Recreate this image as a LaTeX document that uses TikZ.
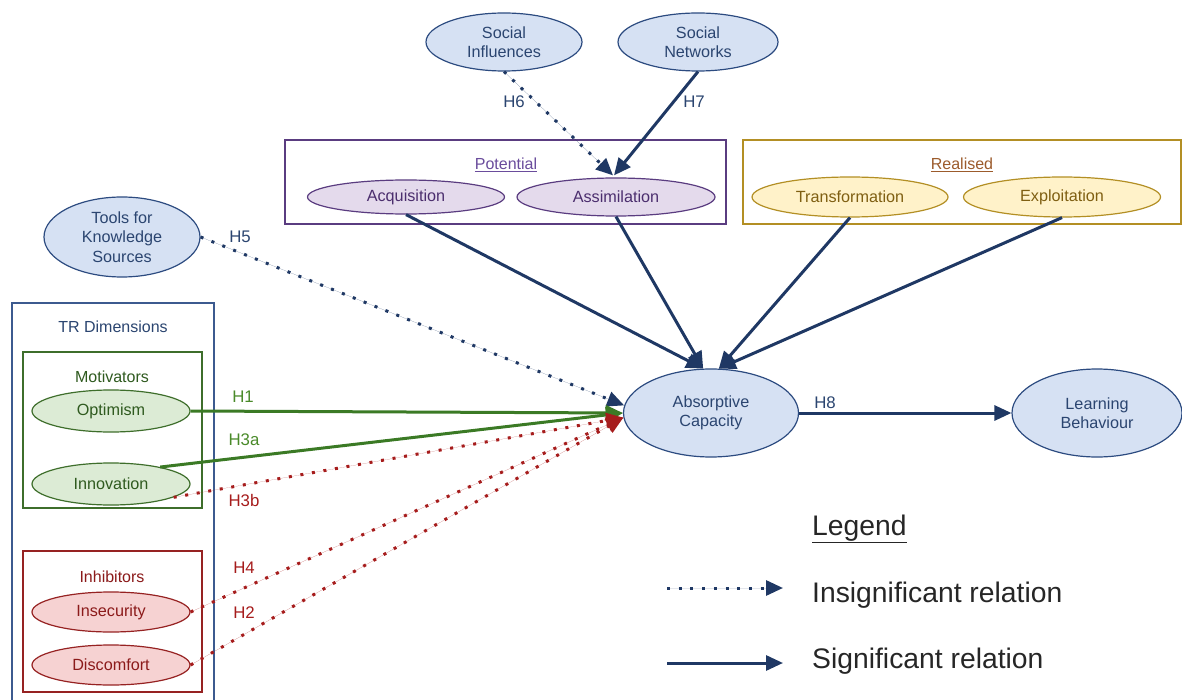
\documentclass[tikz,border=0pt]{standalone}
\usepackage{fontspec}
\setmainfont{Liberation Sans}
\usetikzlibrary{arrows.meta,shapes.geometric,calc}

\definecolor{bluefill}{HTML}{D6E1F3}
\definecolor{blueline}{HTML}{2C4B80}
\definecolor{bluetext}{HTML}{2B4570}
\definecolor{arrowblue}{HTML}{1F3864}
\definecolor{purplefill}{HTML}{E4DAEC}
\definecolor{purpleline}{HTML}{5A3C80}
\definecolor{purpletext}{HTML}{4B2E6E}
\definecolor{purpletitle}{HTML}{6A4C9C}
\definecolor{yellowfill}{HTML}{FFF2C9}
\definecolor{yellowline}{HTML}{B38F24}
\definecolor{yellowtext}{HTML}{7F5F12}
\definecolor{yellowtitle}{HTML}{9C5B2C}
\definecolor{greenfill}{HTML}{DCEBD5}
\definecolor{greenline}{HTML}{3E6E2B}
\definecolor{greentext}{HTML}{2F5A1F}
\definecolor{arrowgreen}{HTML}{3B7A25}
\definecolor{greenlabel}{HTML}{4A8A2A}
\definecolor{redfill}{HTML}{F6D2D2}
\definecolor{redline}{HTML}{962222}
\definecolor{redtext}{HTML}{8B1A1A}
\definecolor{arrowred}{HTML}{A61C1C}
\definecolor{trline}{HTML}{3C5A8F}

\tikzset{
  oval/.style={ellipse, draw, line width=1.2pt, inner sep=0pt, align=center,
    font=\fontsize{16.2}{19.5}\selectfont},
  blueoval/.style={oval, draw=blueline, fill=bluefill, text=bluetext},
  purpleoval/.style={oval, draw=purpleline, fill=purplefill, text=purpletext},
  yellowoval/.style={oval, draw=yellowline, fill=yellowfill, text=yellowtext},
  greenoval/.style={oval, draw=greenline, fill=greenfill, text=greentext},
  redoval/.style={oval, draw=redline, fill=redfill, text=redtext},
  groupbox/.style={rectangle, draw, line width=1.2pt, fill=white, inner sep=0pt},
  grouptitle/.style={inner sep=0pt, font=\fontsize{16}{19}\selectfont},
  hyplabel/.style={inner sep=0pt, font=\fontsize{16.8}{19}\selectfont},
  tip/.style={-{Triangle[length=17pt,width=15pt]}},
  sigline/.style={tip, line width=3pt, draw=arrowblue, fill=arrowblue},
  greenline/.style={tip, line width=3pt, draw=arrowgreen, fill=arrowgreen},
  dotline/.style={tip, line width=3pt, line cap=butt, dash pattern=on 3pt off 8.7pt},
  bluedots/.style={dotline, draw=arrowblue, fill=arrowblue},
  reddots/.style={dotline, draw=arrowred, fill=arrowred},
  legendtext/.style={inner sep=0pt, anchor=base west, text=black!85,
    font=\fontsize{28.3}{32}\selectfont}
}

\begin{document}
\begin{tikzpicture}[x=1pt, y=-1pt]
\useasboundingbox (0,0) rectangle (1182,700);

% group frames
\node[groupbox, draw=purpleline, minimum width=441pt, minimum height=84pt] (potbox) at (505.5,182) {};
\node[groupbox, draw=yellowline, minimum width=438pt, minimum height=84pt] (realbox) at (962,182) {};
\node[groupbox, draw=trline, minimum width=202pt, minimum height=404pt] (trbox) at (113,505) {};
\node[groupbox, draw=greenline, minimum width=179pt, minimum height=156pt] (motbox) at (112.5,430) {};
\node[groupbox, draw=redline, minimum width=179pt, minimum height=141pt] (inhbox) at (112.5,621.5) {};

% frame titles
\node[grouptitle, text=purpletitle] (pottitle) at (506,165) {\underline{Potential}};
\node[grouptitle, text=yellowtitle] (realtitle) at (962,165) {\underline{Realised}};
\node[grouptitle, text=bluetext] (trtitle) at (113,327) {TR Dimensions};
\node[grouptitle, text=greentext] (mottitle) at (112,377) {Motivators};
\node[grouptitle, text=redtext] (inhtitle) at (112,577) {Inhibitors};

% constructs
\node[blueoval, minimum width=156pt, minimum height=58pt] (si) at (504,42) {Social\\Influences};
\node[blueoval, minimum width=160pt, minimum height=58pt] (sn) at (698,42) {Social\\Networks};
\node[purpleoval, minimum width=197pt, minimum height=34pt] (acq) at (406,197) {Acquisition};
\node[purpleoval, minimum width=198pt, minimum height=38pt] (assim) at (616,197) {Assimilation};
\node[yellowoval, minimum width=196pt, minimum height=40pt] (trans) at (850,197) {Transformation};
\node[yellowoval, minimum width=197pt, minimum height=40pt] (expl) at (1062,197) {Exploitation};
\node[blueoval, minimum width=156pt, minimum height=80pt] (tools) at (122,237) {Tools for\\Knowledge\\Sources};
\node[greenoval, minimum width=158pt, minimum height=42pt] (opt) at (111,411) {Optimism};
\node[greenoval, minimum width=158pt, minimum height=42pt] (inn) at (111,484) {Innovation};
\node[redoval, minimum width=158pt, minimum height=40pt] (insec) at (111,612) {Insecurity};
\node[redoval, minimum width=158pt, minimum height=40pt] (disc) at (111,665) {Discomfort};
\node[blueoval, minimum width=175pt, minimum height=88pt] (abs) at (711,413) {Absorptive\\Capacity};
\node[blueoval, minimum width=170pt, minimum height=88pt] (learn) at (1097,413) {Learning\\Behaviour};

% relations into assimilation
\draw[bluedots] (si.south) -- ($(assim.north)+(-3,-2)$);
\draw[sigline] (sn.south) -- ($(assim.north)+(-2,-2)$);

% capability dimensions into absorptive capacity
\draw[sigline] (acq.south) -- (abs.100);
\draw[sigline] (assim.south) -- (abs.100);
\draw[sigline] (trans.south) -- (abs.80);
\draw[sigline] (expl.south) -- (abs.80);

% technology readiness and tools
\draw[bluedots] (tools.east) -- (abs.175);
\draw[greenline] (opt.east) -- (abs.west);
\draw[greenline] (inn.19) -- (abs.west);
\draw[reddots] (inn.-12) -- (abs.183);
\draw[reddots] (insec.east) -- (abs.183);
\draw[reddots] (disc.east) -- (abs.183);

% outcome
\draw[sigline] (abs.east) -- (learn.west);

% hypothesis labels
\node[hyplabel, text=bluetext] (h5) at (240,237) {H5};
\node[hyplabel, text=greenlabel] (h1) at (243,397) {H1};
\node[hyplabel, text=greenlabel] (h3a) at (244,440) {H3a};
\node[hyplabel, text=arrowred] (h3b) at (244,500) {H3b};
\node[hyplabel, text=arrowred] (h4) at (244,568) {H4};
\node[hyplabel, text=arrowred] (h2) at (244,613) {H2};
\node[hyplabel, text=bluetext] (h6) at (514,102) {H6};
\node[hyplabel, text=bluetext] (h7) at (694,102) {H7};
\node[hyplabel, text=bluetext] (h8) at (825,403) {H8};

% legend
\node[legendtext] (legtitle) at (812,535) {\underline{Legend}};
\coordinate (insA) at (667,588);
\coordinate (insB) at (783,588);
\coordinate (sigA) at (667,663);
\coordinate (sigB) at (783,663);
\draw[bluedots] (insA) -- (insB);
\draw[sigline] (sigA) -- (sigB);
\node[legendtext] (legins) at (812,602) {Insignificant relation};
\node[legendtext] (legsig) at (812,668) {Significant relation};
\end{tikzpicture}
\end{document}
